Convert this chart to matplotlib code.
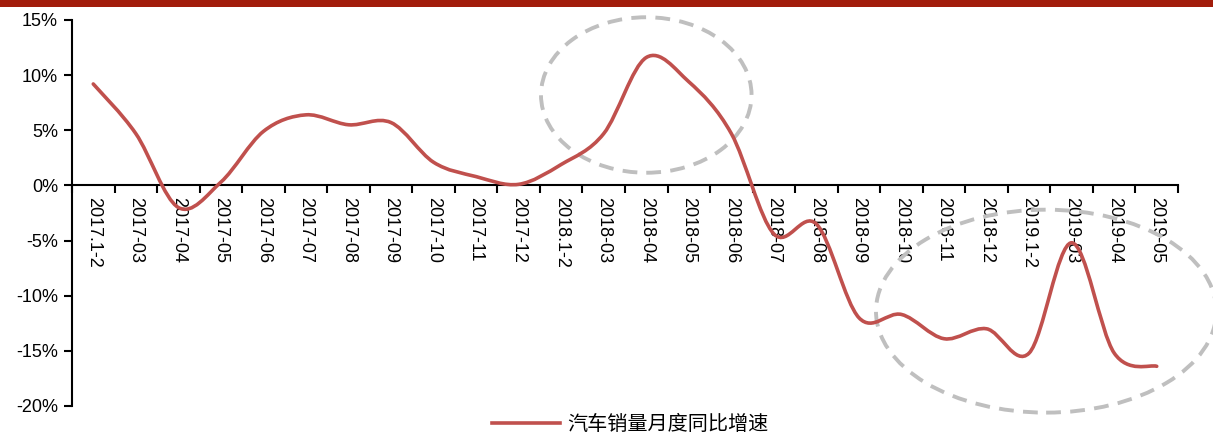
import matplotlib
matplotlib.use('Agg')
import matplotlib.pyplot as plt
import numpy as np
from matplotlib.path import Path
from matplotlib.patches import PathPatch, Ellipse, Rectangle
from matplotlib.lines import Line2D
from matplotlib.ticker import FuncFormatter, FixedLocator

plt.rcParams['font.family'] = ['Liberation Sans', 'DejaVu Sans']

months = ['2017.1-2', '2017-03', '2017-04', '2017-05', '2017-06', '2017-07',
          '2017-08', '2017-09', '2017-10', '2017-11', '2017-12',
          '2018.1-2', '2018-03', '2018-04', '2018-05', '2018-06', '2018-07',
          '2018-08', '2018-09', '2018-10', '2018-11', '2018-12',
          '2019.1-2', '2019-03', '2019-04', '2019-05']
# 汽车销量月度同比增速 (%)
sales_yoy = [9.2, 4.7, -2.0, 0.3, 4.9, 6.4, 5.5, 5.7, 2.1, 0.8, 0.1,
             1.9, 4.7, 11.6, 9.4, 4.7, -4.4, -3.5, -12.0, -11.7, -13.9,
             -13.0, -15.2, -5.2, -15.2, -16.4]
series_name = '汽车销量月度同比增速'

line_color = '#C0504D'
ring_color = '#BFBFBF'


def smooth_path(xs, ys):
    # Catmull-Rom style bezier through every point (like Excel's smoothed line)
    pts = np.column_stack([xs, ys]).astype(float)
    n = len(pts)
    verts = [pts[0]]
    codes = [Path.MOVETO]
    for i in range(n - 1):
        p0 = pts[max(i - 1, 0)]
        p1 = pts[i]
        p2 = pts[i + 1]
        p3 = pts[min(i + 2, n - 1)]
        c1 = p1 + (p2 - p0) / 6.0
        c2 = p2 - (p3 - p1) / 6.0
        verts += [c1, c2, p2]
        codes += [Path.CURVE4] * 3
    return Path(verts, codes)


fig = plt.figure(figsize=(12.13, 4.37), dpi=100)
ax = fig.add_axes([72 / 1213, 1 - 406 / 437, (1178 - 72) / 1213, (406 - 20) / 437])

# red band across the top
fig.patches.append(Rectangle((0, 1 - 7 / 437), 1, 7 / 437, transform=fig.transFigure,
                             facecolor='#A21C0B', edgecolor='none'))

x = np.arange(len(months))
ax.add_patch(PathPatch(smooth_path(x, sales_yoy), facecolor='none',
                       edgecolor=line_color, lw=2.6, capstyle='round', zorder=3))

# dashed rings around the two highlighted periods
ax.add_patch(Ellipse((13.0, 8.2), 4.95, 14.1, facecolor='none', edgecolor=ring_color,
                     lw=2.8, ls=(0, (3.8, 2.4)), clip_on=False, zorder=2))
ax.add_patch(Ellipse((22.4, -11.4), 8.0, 18.4, facecolor='none', edgecolor=ring_color,
                     lw=2.8, ls=(0, (3.8, 2.4)), clip_on=False, zorder=2))

ax.set_xlim(-0.5, len(months) - 0.5)
ax.set_ylim(-20, 15)
ax.set_yticks(np.arange(-20, 16, 5))
ax.yaxis.set_major_formatter(FuncFormatter(lambda v, p: f'{v:.0f}%'))

# category boundaries get ticks, labels sit in between
ax.xaxis.set_major_locator(FixedLocator(np.arange(-0.5, len(months), 1.0)))
ax.xaxis.set_major_formatter(FuncFormatter(lambda v, p: ''))
ax.set_xticks(x, labels=months, minor=True)
ax.tick_params(axis='x', which='minor', length=0, pad=8, labelsize=13, labelrotation=-90)
for lbl in ax.get_xticklabels(minor=True):
    lbl.set_verticalalignment('top')
    lbl.set_horizontalalignment('center')
ax.tick_params(axis='x', which='major', direction='out', length=6, width=1.5)
ax.tick_params(axis='y', direction='out', length=6, width=1.5, labelsize=13, pad=4)

for side in ('top', 'right'):
    ax.spines[side].set_visible(False)
ax.spines['bottom'].set_position(('data', 0))
ax.spines['bottom'].set_linewidth(1.5)
ax.spines['left'].set_linewidth(1.5)

handle = Line2D([], [], color=line_color, lw=2.6)
fig.legend([handle], [series_name], loc='center', bbox_to_anchor=(630 / 1213, 1 - 425 / 437),
           frameon=False, handlelength=3.4, handletextpad=0.35,
           prop={'family': ['Noto Sans CJK SC', 'DejaVu Sans'], 'size': 14.5})

fig.savefig('out.png', dpi=100)
